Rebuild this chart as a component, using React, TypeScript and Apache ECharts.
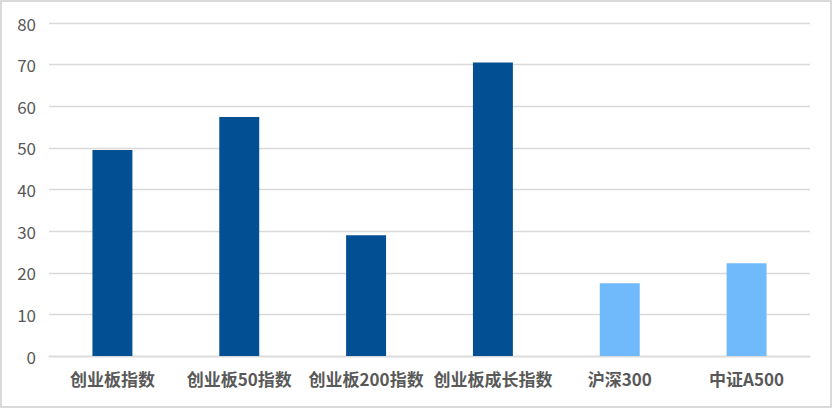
import React, { useEffect, useRef } from 'react';
import * as echarts from 'echarts';

const categories = ['创业板指数', '创业板50指数', '创业板200指数', '创业板成长指数', '沪深300', '中证A500'];
const values = [49.5, 57.4, 29.0, 70.5, 17.5, 22.3];
// first four are ChiNext indexes, last two are broad-market benchmarks
const groups = ['chinext', 'chinext', 'chinext', 'chinext', 'broad', 'broad'];

const COLORS: Record<string, string> = {
  chinext: '#034f93',
  broad: '#70bafb',
};

const FONT = '"Noto Sans CJK SC", "Noto Sans", sans-serif';

export default function App() {
  const chartRef = useRef<HTMLDivElement>(null);

  useEffect(() => {
    if (!chartRef.current) return;
    const chart = echarts.init(chartRef.current, null, { renderer: 'svg' });

    chart.setOption({
      animation: false,
      backgroundColor: '#ffffff',
      grid: { left: 49, right: 22, top: 23, bottom: 52 },
      xAxis: {
        type: 'category',
        data: categories,
        axisTick: { show: false },
        axisLine: { lineStyle: { color: '#d9d9d9', width: 1.3 } },
        axisLabel: {
          color: '#595959',
          fontSize: 17,
          fontWeight: 'bold',
          fontFamily: FONT,
          margin: 14,
          interval: 0,
        },
      },
      yAxis: {
        type: 'value',
        min: 0,
        max: 80,
        interval: 10,
        axisLine: { show: false },
        axisTick: { show: false },
        axisLabel: {
          color: '#595959',
          fontSize: 17,
          fontFamily: FONT,
          margin: 13,
        },
        splitLine: { lineStyle: { color: '#d9d9d9', width: 1.3 } },
      },
      series: [
        {
          type: 'bar',
          barWidth: '31.5%',
          data: values.map((v, i) => ({
            value: v,
            itemStyle: { color: COLORS[groups[i]] },
          })),
        },
      ],
    });

    return () => {
      chart.dispose();
    };
  }, []);

  return (
    <div style={{ position: 'absolute', left: 0, top: 0, width: 832, height: 408 }}>
      <div ref={chartRef} style={{ width: 832, height: 408 }} />
      <div
        style={{
          position: 'absolute',
          inset: 0,
          border: '2px solid #d9d9d9',
          boxSizing: 'border-box',
          pointerEvents: 'none',
        }}
      />
    </div>
  );
}
